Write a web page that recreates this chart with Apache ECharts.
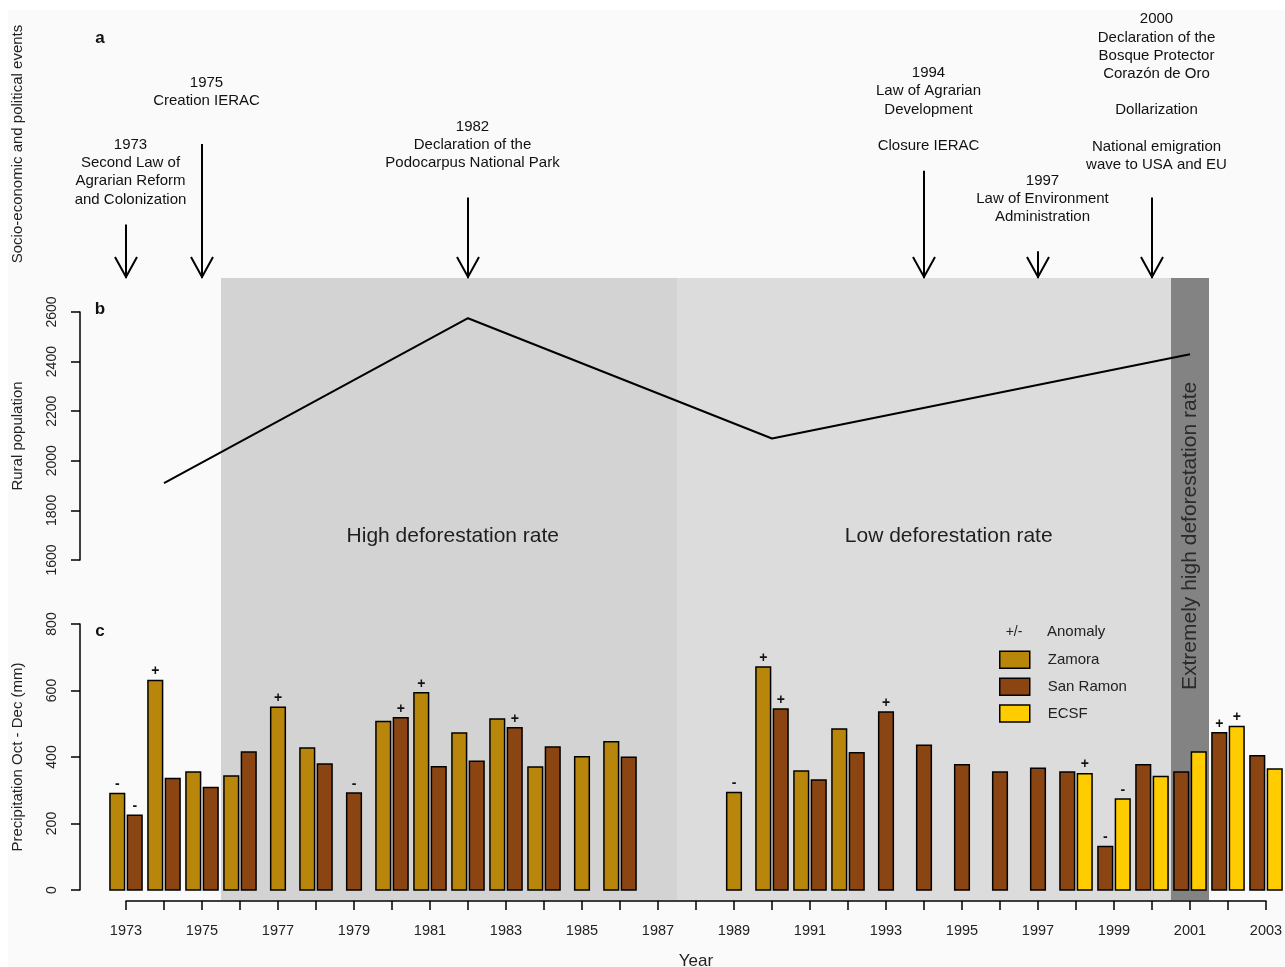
<!DOCTYPE html>
<html>
<head>
<meta charset="utf-8">
<title>Deforestation, rural population and precipitation 1973-2003</title>
<script src="https://cdn.jsdelivr.net/npm/echarts@6/dist/echarts.min.js"></script>
<style>
  html, body { margin: 0; padding: 0; background: #ffffff; }
  #chart { width: 1285px; height: 967px; }
</style>
</head>
<body>
<div id="chart"></div>
<script>
// ---- data -------------------------------------------------------------
const years = [1973, 1974, 1975, 1976, 1977, 1978, 1979, 1980, 1981, 1982,
               1983, 1984, 1985, 1986, 1987, 1988, 1989, 1990, 1991, 1992,
               1993, 1994, 1995, 1996, 1997, 1998, 1999, 2000, 2001, 2002, 2003];

// Oct - Dec precipitation (mm)
const zamora   = [290, 630, 355, 343, 550, 427, null, 507, 593, 472,
                  514, 370, 401, 446, null, null, 293, 671, 358, 484,
                  null, null, null, null, null, null, null, null, null, null, null];
const sanRamon = [225, 335, 308, 415, null, 379, 292, 518, 371, 387,
                  488, 430, null, 399, null, null, null, 544, 331, 413,
                  535, 435, 377, 355, 366, 355, 131, 377, 355, 473, 404];
const ecsf     = [null, null, null, null, null, null, null, null, null, null,
                  null, null, null, null, null, null, null, null, null, null,
                  null, null, null, null, null, 350, 274, 341, 415, 492, 364];

// anomaly flags (+ / -) per station and year
const zamoraAnomaly   = ['-', '+', '', '', '+', '', '', '', '+', '',
                         '', '', '', '', '', '', '-', '+', '', '',
                         '', '', '', '', '', '', '', '', '', '', ''];
const sanRamonAnomaly = ['-', '', '', '', '', '', '-', '+', '', '',
                         '+', '', '', '', '', '', '', '+', '', '',
                         '+', '', '', '', '', '', '-', '', '', '+', ''];
const ecsfAnomaly     = ['', '', '', '', '', '', '', '', '', '',
                         '', '', '', '', '', '', '', '', '', '',
                         '', '', '', '', '', '+', '-', '', '', '+', ''];

// rural population
const popYears  = [1974, 1982, 1990, 2001];
const popValues = [1910, 2575, 2090, 2430];

// deforestation periods
const regionStart  = [1975.5, 1987.5, 2000.5];
const regionEnd    = [1987.5, 2000.5, 2001.5];
const regionLabels = ['High deforestation rate', 'Low deforestation rate',
                      'Extremely high deforestation rate'];
const regionLabelYear = [1981.6, 1994.65, 2001];

// socio-economic and political events
const eventYears = [1973, 1975, 1982, 1994, 1997, 2000];
const eventTexts = [
  '1973\nSecond Law of\nAgrarian Reform\nand Colonization',
  '1975\nCreation IERAC',
  '1982\nDeclaration of the\nPodocarpus National Park',
  '1994\nLaw of Agrarian\nDevelopment\n\nClosure IERAC',
  '1997\nLaw of Environment\nAdministration',
  '2000\nDeclaration of the\nBosque Protector\nCorazón de Oro\n\nDollarization\n\nNational emigration\nwave to USA and EU'
];
const eventArrowTop = [0.2, 0.5, 0.3, 0.4, 0.1, 0.3];
const eventTextLevel = [0.395, 0.694, 0.496, 0.629, 0.295, 0.694];

const yearTickLabels = ['1973', '1975', '1977', '1979', '1981', '1983', '1985', '1987',
                        '1989', '1991', '1993', '1995', '1997', '1999', '2001', '2003'];

// ---- styling ------------------------------------------------------------
const FONT = '"Liberation Sans", Arial, Helvetica, sans-serif';
const stationColors = ['#B8860B', '#8B4513', '#FFCC00'];
const regionColors = ['#d3d3d3', '#dcdcdc', '#838383'];
const BAR_W = 0.385;     // bar width in years
const BAR_STEP = 0.46;   // distance between paired bars in years

const chart = echarts.init(document.getElementById('chart'));

const stations = [zamora, sanRamon, ecsf];
const anomalies = [zamoraAnomaly, sanRamonAnomaly, ecsfAnomaly];

function stationSeries(name, idx) {
  const values = stations[idx];
  const rows = [];
  const flags = [];
  years.forEach((y, i) => {
    if (values[i] == null) return;
    const present = stations.map(s => s[i] != null);
    const count = present.filter(Boolean).length;
    const slot = present.slice(0, idx).filter(Boolean).length;
    rows.push([y, values[i], slot, count]);
    flags.push(anomalies[idx][i]);
  });
  return {
    name: name,
    type: 'custom',
    xAxisIndex: 2,
    yAxisIndex: 2,
    z: 4,
    itemStyle: { color: stationColors[idx], borderColor: '#000', borderWidth: 1.5 },
    data: rows,
    renderItem: function (params, api) {
      const x = api.value(0), v = api.value(1), slot = api.value(2), count = api.value(3);
      const off = count === 2 ? (slot === 0 ? -BAR_STEP / 2 : BAR_STEP / 2) : 0;
      const p0 = api.coord([x + off - BAR_W / 2, v]);
      const p1 = api.coord([x + off + BAR_W / 2, 0]);
      const children = [{
        type: 'rect',
        shape: { x: p0[0], y: p0[1], width: p1[0] - p0[0], height: p1[1] - p0[1] },
        style: { fill: stationColors[idx], stroke: '#000', lineWidth: 1.5 }
      }];
      const flag = flags[params.dataIndex];
      if (flag) {
        children.push({
          type: 'text',
          style: {
            text: flag, x: (p0[0] + p1[0]) / 2, y: p0[1] - 9,
            align: 'center', verticalAlign: 'middle',
            fontFamily: FONT, fontSize: 14, fontWeight: 'bold', fill: '#111'
          }
        });
      }
      return { type: 'group', children: children };
    }
  };
}

const gridBase = { left: 126, right: 19, outerBoundsMode: 'none', containLabel: false };
const hiddenX = (grid) => ({ gridIndex: grid, type: 'value', min: 1973, max: 2003, show: false });
const plainNumber = v => String(v);

const option = {
  backgroundColor: '#fafafa',
  animation: false,
  textStyle: { fontFamily: FONT },
  grid: [
    Object.assign({ top: 10, height: 268 }, gridBase),   // a: events
    Object.assign({ top: 312, height: 248 }, gridBase),  // b: rural population
    Object.assign({ top: 624, height: 266 }, gridBase),  // c: precipitation
    Object.assign({ top: 278, height: 623 }, gridBase)   // shaded periods behind b and c
  ],
  xAxis: [
    hiddenX(0),
    hiddenX(1),
    {
      gridIndex: 2, type: 'value', min: 1973, max: 2003, interval: 1, offset: 11, z: 10,
      name: 'Year', nameLocation: 'middle', nameGap: 52,
      nameTextStyle: { fontSize: 17, color: '#222', fontFamily: FONT },
      axisLine: { onZero: false, lineStyle: { color: '#000', width: 1.5 } },
      axisTick: { length: 9, lineStyle: { color: '#000', width: 1.5 } },
      axisLabel: {
        margin: 22, fontSize: 14.5, color: '#222', fontFamily: FONT,
        showMinLabel: true, showMaxLabel: true, hideOverlap: false,
        formatter: v => yearTickLabels.includes(String(v)) ? String(v) : ''
      },
      splitLine: { show: false }
    },
    hiddenX(3)
  ],
  yAxis: [
    {
      gridIndex: 0, type: 'value', min: 0, max: 1, offset: 46,
      name: 'Socio-economic and political events', nameLocation: 'middle', nameGap: 55,
      nameTextStyle: { fontSize: 15, color: '#222', fontFamily: FONT },
      axisLine: { show: false }, axisTick: { show: false },
      axisLabel: { show: false }, splitLine: { show: false }
    },
    {
      gridIndex: 1, type: 'value', min: 1600, max: 2600, interval: 200, offset: 46, z: 10,
      name: 'Rural population', nameLocation: 'middle', nameGap: 55,
      nameTextStyle: { fontSize: 15, color: '#222', fontFamily: FONT },
      axisLine: { show: true, onZero: false, lineStyle: { color: '#000', width: 1.5 } },
      axisTick: { show: true, length: 9, lineStyle: { color: '#000', width: 1.5 } },
      axisLabel: { rotate: 90, margin: 21, fontSize: 14, color: '#222', fontFamily: FONT, formatter: plainNumber },
      splitLine: { show: false }
    },
    {
      gridIndex: 2, type: 'value', min: 0, max: 800, interval: 200, offset: 46, z: 10,
      name: 'Precipitation Oct - Dec (mm)', nameLocation: 'middle', nameGap: 55,
      nameTextStyle: { fontSize: 15, color: '#222', fontFamily: FONT },
      axisLine: { show: true, onZero: false, lineStyle: { color: '#000', width: 1.5 } },
      axisTick: { show: true, length: 9, lineStyle: { color: '#000', width: 1.5 } },
      axisLabel: { rotate: 90, margin: 21, fontSize: 14, color: '#222', fontFamily: FONT, formatter: plainNumber },
      splitLine: { show: false }
    },
    { gridIndex: 3, type: 'value', min: 0, max: 1, show: false }
  ],
  legend: {
    data: [
      { name: 'Zamora', icon: 'rect' },
      { name: 'San Ramon', icon: 'rect' },
      { name: 'ECSF', icon: 'rect' }
    ],
    orient: 'vertical', left: 994, top: 645.5, z: 10,
    itemWidth: 30, itemHeight: 17, itemGap: 8.4,
    selectedMode: false,
    itemStyle: { borderColor: '#000', borderWidth: 1.5 },
    textStyle: { fontSize: 15, color: '#222', fontFamily: FONT, padding: [0, 0, 0, 13] }
  },
  graphic: {
    z: 100,
    elements: [
      { type: 'rect', z: 100, shape: { x: 0, y: 0, width: 1285, height: 10 }, style: { fill: '#ffffff' }, silent: true },
      { type: 'rect', z: 100, shape: { x: 0, y: 0, width: 8, height: 967 }, style: { fill: '#ffffff' }, silent: true },
      { type: 'text', z: 100, x: 100, y: 38, style: { text: 'a', fontSize: 17, fontWeight: 'bold', fontFamily: FONT, fill: '#111', align: 'center', verticalAlign: 'middle' } },
      { type: 'text', z: 100, x: 100, y: 309, style: { text: 'b', fontSize: 17, fontWeight: 'bold', fontFamily: FONT, fill: '#111', align: 'center', verticalAlign: 'middle' } },
      { type: 'text', z: 100, x: 100, y: 631, style: { text: 'c', fontSize: 17, fontWeight: 'bold', fontFamily: FONT, fill: '#111', align: 'center', verticalAlign: 'middle' } },
      { type: 'text', z: 100, x: 1014, y: 632, style: { text: '+/-', fontSize: 14, fontFamily: FONT, fill: '#222', align: 'center', verticalAlign: 'middle' } },
      { type: 'text', z: 100, x: 1047, y: 632, style: { text: 'Anomaly', fontSize: 15, fontFamily: FONT, fill: '#222', align: 'left', verticalAlign: 'middle' } }
    ]
  },
  series: [
    {
      // shaded deforestation periods
      type: 'custom',
      xAxisIndex: 3,
      yAxisIndex: 3,
      z: 1,
      silent: true,
      data: regionStart.map((s, i) => [s, regionEnd[i], regionLabelYear[i]]),
      renderItem: function (params, api) {
        const i = params.dataIndex;
        const p0 = api.coord([api.value(0), 1]);
        const p1 = api.coord([api.value(1), 0]);
        const lab = api.coord([api.value(2), 0.586]);
        const vertical = i === 2;
        return {
          type: 'group',
          children: [
            {
              type: 'rect',
              shape: { x: p0[0], y: p0[1], width: p1[0] - p0[0], height: p1[1] - p0[1] - 0.8 },
              style: { fill: regionColors[i] }
            },
            {
              type: 'text',
              x: lab[0], y: lab[1],
              rotation: vertical ? Math.PI / 2 : 0,
              style: {
                text: regionLabels[i], x: 0, y: 0,
                align: 'center', verticalAlign: 'middle',
                fontFamily: FONT, fontSize: 21, fill: vertical ? '#2a2a2a' : '#1e1e1e'
              }
            }
          ]
        };
      }
    },
    {
      // event arrows with their descriptions
      type: 'custom',
      xAxisIndex: 0,
      yAxisIndex: 0,
      z: 3,
      silent: true,
      data: eventYears.map((y, i) => [y, eventArrowTop[i], eventTextLevel[i]]),
      renderItem: function (params, api) {
        const i = params.dataIndex;
        const x = api.value(0);
        const top = api.coord([x, api.value(1)]);
        const tip = api.coord([x, 0]);
        const lab = api.coord([x, api.value(2)]);
        return {
          type: 'group',
          children: [
            { type: 'line', shape: { x1: top[0], y1: top[1], x2: tip[0], y2: tip[1] },
              style: { stroke: '#000', lineWidth: 2 } },
            { type: 'polyline',
              shape: { points: [[tip[0] - 11, tip[1] - 21], [tip[0], tip[1] - 1], [tip[0] + 11, tip[1] - 21]] },
              style: { stroke: '#000', lineWidth: 2, fill: 'none' } },
            { type: 'text',
              style: { text: eventTexts[i], x: lab[0] + 4.5, y: lab[1],
                       align: 'center', verticalAlign: 'middle', lineHeight: 18.2,
                       fontFamily: FONT, fontSize: 15, fill: '#111' } }
          ]
        };
      }
    },
    {
      name: 'Rural population',
      type: 'line',
      xAxisIndex: 1,
      yAxisIndex: 1,
      z: 3,
      symbol: 'none',
      data: popYears.map((y, i) => [y, popValues[i]]),
      lineStyle: { color: '#000', width: 2 }
    },
    stationSeries('Zamora', 0),
    stationSeries('San Ramon', 1),
    stationSeries('ECSF', 2)
  ]
};

chart.setOption(option);
</script>
</body>
</html>
